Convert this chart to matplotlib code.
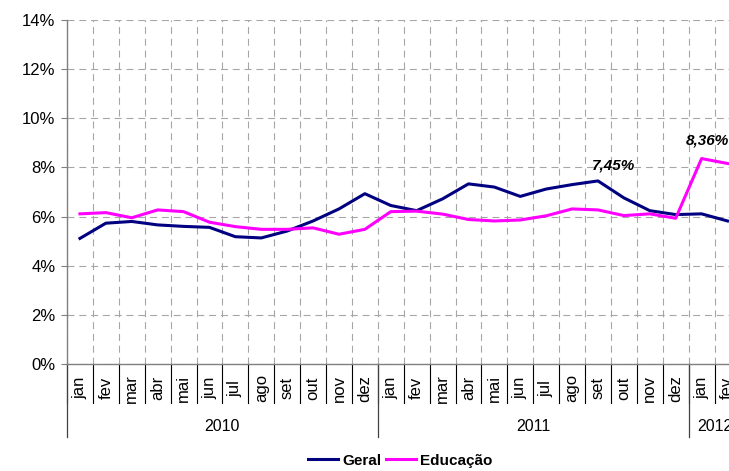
import numpy as np
import matplotlib
matplotlib.use('Agg')
import matplotlib.pyplot as plt

plt.rcParams['font.family'] = ['Liberation Sans', 'DejaVu Sans']
plt.rcParams['font.size'] = 11
plt.rcParams['lines.scale_dashes'] = False

# dados
meses = ['jan', 'fev', 'mar', 'abr', 'mai', 'jun', 'jul', 'ago', 'set', 'out', 'nov', 'dez']
anos = ['2010', '2011', '2012']
meses_por_ano = [12, 12, 2]
geral = [5.11, 5.73, 5.80, 5.66, 5.60, 5.56, 5.18, 5.13, 5.41, 5.82, 6.31, 6.93,
         6.45, 6.24, 6.72, 7.33, 7.20, 6.82, 7.12, 7.30, 7.45, 6.76, 6.24, 6.08,
         6.11, 5.82]
educacao = [6.11, 6.16, 5.95, 6.27, 6.20, 5.77, 5.59, 5.48, 5.48, 5.54, 5.28, 5.48,
            6.20, 6.22, 6.10, 5.88, 5.82, 5.86, 6.03, 6.31, 6.27, 6.04, 6.11, 5.93,
            8.36, 8.16]
rotulos = [(20, geral, '7,45%', (11.5, 6)), (24, educacao, '8,36%', (4, 8))]

labels = []
for n in meses_por_ano:
    labels += meses[:n]
n_cat = len(labels)
x = np.arange(n_cat) + 0.5

fig = plt.figure(figsize=(7.29, 4.71), dpi=100)
ax = fig.add_axes([0.0919, 0.2272, 1.0157 - 0.0919, 0.7304])

ax.plot(x, geral, color='#000080', lw=2.2, label='Geral', zorder=3)
ax.plot(x, educacao, color='#FF00FF', lw=2.2, label='Educação', zorder=3)

ax.set_xlim(0, n_cat)
ax.set_ylim(0, 14)
ax.set_yticks(range(0, 15, 2))
ax.set_yticklabels([f'{v}%' for v in range(0, 15, 2)], fontsize=12)
ax.set_xticks(range(0, n_cat + 1))
ax.tick_params(axis='x', length=0, labelbottom=False)
ax.tick_params(axis='y', direction='out', length=4.3, width=0.8, pad=4, color='#808080')
ax.grid(True, color='#a6a6a6', lw=0.8, ls=(0, (5, 3.5)))
ax.set_axisbelow(True)

for s in ['top', 'right']:
    ax.spines[s].set_visible(False)
ax.spines['left'].set_color('#808080')
ax.spines['bottom'].set_color('#808080')
ax.spines['left'].set_linewidth(1.0)
ax.spines['bottom'].set_linewidth(1.0)

# rótulos dos meses e anos abaixo do eixo
tr = ax.get_xaxis_transform()
for i, m in enumerate(labels):
    ax.text(x[i], -0.07, m, rotation=90, ha='center', va='center', fontsize=12,
            transform=tr, clip_on=False)
for b in range(0, n_cat + 1):
    ax.plot([b, b], [0, -0.1134], color='black', lw=0.8, transform=tr, clip_on=False)
inicio = 0
for ano, n in zip(anos, meses_por_ano):
    ax.plot([inicio, inicio], [0, -0.212], color='#404040', lw=0.9, transform=tr, clip_on=False)
    ax.text(inicio + n / 2, -0.183, ano, ha='center', va='center', fontsize=11.5,
            transform=tr, clip_on=False)
    inicio += n

# rótulos de dados
for i, serie, txt, off in rotulos:
    ax.annotate(txt, (x[i], serie[i]), xytext=off, textcoords='offset points',
                ha='center', va='bottom', fontweight='bold', fontstyle='italic',
                annotation_clip=False)

fig.legend(loc='center', bbox_to_anchor=(0.549, 0.022), ncol=2, frameon=False,
           prop={'weight': 'bold', 'size': 11}, handlelength=2.0,
           handletextpad=0.25, columnspacing=0.3)

fig.savefig('out.png', dpi=100)
